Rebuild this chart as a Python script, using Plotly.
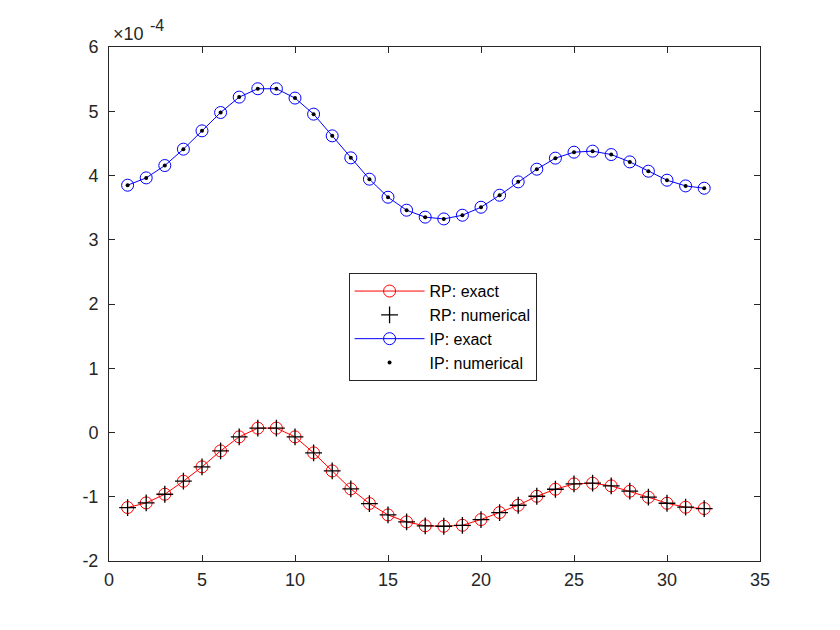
import plotly.graph_objects as go

# Sample index
x_idx = list(range(1, 33))

# Values in units of 1e-4
rp_exact = [-1.168, -1.096, -0.961, -0.758, -0.535, -0.286, -0.068, 0.068, 0.068, -0.068,
            -0.317, -0.598, -0.878, -1.106, -1.283, -1.392, -1.452, -1.459, -1.444, -1.355,
            -1.246, -1.132, -0.992, -0.883, -0.800, -0.789, -0.831, -0.914, -1.007, -1.101,
            -1.163, -1.184]
rp_numerical = list(rp_exact)

ip_exact = [3.849, 3.963, 4.155, 4.410, 4.695, 4.980, 5.220, 5.350, 5.350, 5.205,
            4.955, 4.617, 4.275, 3.943, 3.662, 3.460, 3.352, 3.324, 3.382, 3.506,
            3.693, 3.901, 4.098, 4.270, 4.363, 4.379, 4.326, 4.212, 4.067, 3.927,
            3.838, 3.802]
ip_numerical = list(ip_exact)

x_ticks = [0, 5, 10, 15, 20, 25, 30, 35]
y_ticks = [-2, -1, 0, 1, 2, 3, 4, 5, 6]
y_ticktext = ["-2", "-1", "0", "1", "2", "3", "4", "5", "6"]

FONT = "Liberation Sans, Arial, Helvetica, sans-serif"
AX = "#262626"

fig = go.Figure()
fig.add_trace(go.Scatter(x=x_idx, y=rp_exact, mode="lines+markers", name="RP: exact",
                         line=dict(color="#ff0000", width=1),
                         marker=dict(symbol="circle-open", size=12, color="#ff0000",
                                     line=dict(width=1, color="#ff0000"))))
fig.add_trace(go.Scatter(x=x_idx, y=rp_numerical, mode="markers", name="RP: numerical",
                         marker=dict(symbol="cross-thin-open", size=12, color="black",
                                     line=dict(width=1.3, color="black"))))
fig.add_trace(go.Scatter(x=x_idx, y=ip_exact, mode="lines+markers", name="IP: exact",
                         line=dict(color="#0000ff", width=1),
                         marker=dict(symbol="circle-open", size=12, color="#0000ff",
                                     line=dict(width=1, color="#0000ff"))))
fig.add_trace(go.Scatter(x=x_idx, y=ip_numerical, mode="markers", name="IP: numerical",
                         marker=dict(symbol="circle", size=4, color="black")))

axis_common = dict(showgrid=False, zeroline=False, showline=True, linecolor=AX, linewidth=1,
                   mirror="ticks", ticks="inside", ticklen=6, tickcolor=AX, tickwidth=1,
                   tickfont=dict(family=FONT, size=18, color=AX))

fig.update_xaxes(range=[0, 35], tickvals=x_ticks, ticklabelstandoff=2, **axis_common)
fig.update_yaxes(range=[-2, 6], tickvals=y_ticks, ticktext=y_ticktext,
                 ticklabelstandoff=6, **axis_common)

fig.update_layout(
    width=840, height=630,
    margin=dict(l=109, r=80, t=47, b=69),
    paper_bgcolor="white", plot_bgcolor="white",
    font=dict(family=FONT, size=18, color=AX),
    showlegend=True,
    legend=dict(x=0.368, y=0.560, xanchor="left", yanchor="top",
                bgcolor="white", bordercolor=AX, borderwidth=1,
                font=dict(family=FONT, size=16, color="black"),
                itemwidth=70, tracegroupgap=0),
    annotations=[
        dict(text="×10", xref="paper", yref="paper",
             x=0.003, y=1.0, xanchor="left", yanchor="bottom", yshift=1,
             showarrow=False, font=dict(family=FONT, size=18, color=AX)),
        dict(text="-4", xref="paper", yref="paper",
             x=0.0596, y=1.0, xanchor="left", yanchor="bottom", yshift=11,
             showarrow=False, font=dict(family=FONT, size=16, color=AX)),
    ],
)

fig.write_html("out.html")
